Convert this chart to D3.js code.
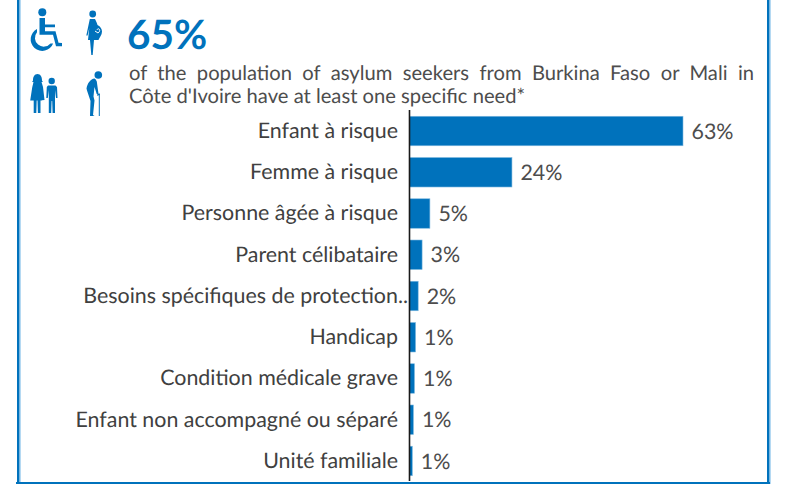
<!DOCTYPE html>
<html>
<head>
<meta charset="utf-8">
<script src="https://cdn.jsdelivr.net/npm/d3@7"></script>
<style>
html, body { margin: 0; padding: 0; background: #fff; }
text { font-family: Lato, sans-serif; text-rendering: geometricPrecision; }
</style>
</head>
<body>
<div id="chartDiv"></div>
<script>
var categories = ["Enfant à risque", "Femme à risque", "Personne âgée à risque", "Parent célibataire",
	"Besoins spécifiques de protection..", "Handicap", "Condition médicale grave",
	"Enfant non accompagné ou séparé", "Unité familiale"];
var values = [63, 23.6, 4.7, 2.9, 2.0, 1.4, 1.15, 0.9, 0.65];
var valueLabels = ["63%", "24%", "5%", "3%", "2%", "1%", "1%", "1%", "1%"];
var headline = "65%";
var introLines = ["of the population of asylum seekers from Burkina Faso or Mali in", "Côte d'Ivoire have at least one specific need*"];

;(function() {
	var width = 793;
	var height = 484;
	var blue = "#0072bc";
	var grey = "#4d4d4d";

	var svg = d3.select("#chartDiv").append("svg")
		.attr("width", width)
		.attr("height", height)
		.style("display", "block");

	// frame: left, right, bottom
	svg.append("rect").attr("x", 17).attr("y", 0).attr("width", 2.5).attr("height", 484).attr("fill", blue);
	svg.append("rect").attr("x", 19.5).attr("y", 0).attr("width", 1).attr("height", 482).attr("fill", "#6db3e6");
	svg.append("rect").attr("x", 767).attr("y", 0).attr("width", 2.5).attr("height", 484).attr("fill", blue);
	svg.append("rect").attr("x", 769.5).attr("y", 0).attr("width", 1).attr("height", 484).attr("fill", "#6db3e6");
	svg.append("rect").attr("x", 16).attr("y", 482).attr("width", 754).attr("height", 2).attr("fill", blue);

	// header
	svg.append("text").attr("x", 127).attr("y", 48.5)
		.style("font-size", "40.5px").style("font-weight", 700).attr("fill", blue).text(headline);

	// first line is justified, so stretch only the gaps between words
	var line1 = svg.append("text").attr("x", 129).attr("y", 80)
		.style("font-size", "20.2px").attr("fill", grey).text(introLines[0]);
	var gaps = introLines[0].split(" ").length - 1;
	line1.style("word-spacing", ((625 - line1.node().getComputedTextLength()) / gaps) + "px");

	svg.append("text").attr("x", 129).attr("y", 103)
		.style("font-size", "20.2px").attr("fill", grey).text(introLines[1]);

	drawIcons();

	// chart
	var xScale = d3.scaleLinear().domain([0, 63]).range([409.5, 683]);
	var yScale = d3.scaleBand().domain(categories).range([110.5, 481.5]).paddingInner(0.285).paddingOuter(0.14);

	svg.selectAll(".bar").data(categories).enter().append("rect")
		.attr("class", "bar")
		.attr("x", xScale(0))
		.attr("y", function(d) { return yScale(d); })
		.attr("width", function(d, i) { return xScale(values[i]) - xScale(0); })
		.attr("height", yScale.bandwidth())
		.attr("fill", blue)
		.attr("stroke", "#7fb9e0")
		.attr("stroke-width", 0.6);

	var yAxis = d3.axisLeft(yScale).tickSize(0).tickPadding(11.5);
	var axisG = svg.append("g")
		.attr("transform", "translate(" + xScale(0) + ",0)")
		.call(yAxis);
	axisG.select(".domain").remove();
	axisG.selectAll("text")
		.style("font-family", "Lato, sans-serif")
		.style("font-size", "21.4px")
		.attr("fill", "#404040");

	// the truncated label runs over the axis line
	axisG.selectAll("text")
		.filter(function(d) { return d.slice(-2) == ".."; })
		.attr("dx", 10);

	svg.append("line")
		.attr("x1", 409.5).attr("x2", 409.5)
		.attr("y1", 110).attr("y2", 481)
		.attr("stroke", "#1a1a1a").attr("stroke-width", 1.6);

	svg.selectAll(".val").data(categories).enter().append("text")
		.attr("class", "val")
		.attr("x", function(d, i) { return xScale(values[i]) + 8.5; })
		.attr("y", function(d) { return yScale(d) + yScale.bandwidth() / 2; })
		.attr("dy", "0.36em")
		.style("font-size", "21.4px")
		.attr("fill", grey)
		.text(function(d, i) { return valueLabels[i]; });

	function drawIcons() {
		var g = svg.append("g").attr("fill", blue);

		// wheelchair
		g.append("circle").attr("cx", 42.3).attr("cy", 12.3).attr("r", 4);
		g.append("path").attr("d", "M39.5 18h5.5v6.5h10v2.7H45v4h10.5l3 11.5 3.5.2v3.3h-6l-3-11.5H39.5z");
		g.append("path").attr("d", "M37 29v3.2A8.8 8.8 0 1 0 50.5 43.5h2.6A11.6 11.6 0 1 1 37 29z");

		// pregnant woman
		g.append("circle").attr("cx", 92.7).attr("cy", 14).attr("r", 3.4);
		g.append("path").attr("d", "M89.8 19h5.2c1.5 3 2 4.500 2.500 6 3 1.500 4.500 4 4.500 6.500 0 3.500-2.500 5.500-3.500 8.500h-4.500l-1.300 15h-1.400l-1.300-15h-2l1.300-12-1.700 7.500h-1.300z");
		g.append("path").attr("fill", "none").attr("stroke", "#fff").attr("stroke-width", 1)
			.attr("d", "M95 31l3 2c1.500-1 2-2.500 1.500-3.500-.5-1-2-1-2.500.3");

		// woman and child
		g.append("path").attr("d", "M33 80c0-3 1.500-6 4.500-6s4.500 3 4.500 6c0 1 .5 1.500 1 2h-11c.5-.5 1-1 1-2z");
		g.append("path").attr("d", "M33.500 82h8l1.500 5 1.500 13-2.600.3v.2h-1.400V113h-2.600l-.4-12.500h-.8l-.4 12.500h-2.600v-12.500h-3.500l2-13z");
		g.append("circle").attr("cx", 51.7).attr("cy", 81).attr("r", 3.2);
		g.append("path").attr("d", "M48 85.500h7.500l1.500 1.500.5 11h-1.500l-1-8V113h-2.400l-.4-12h-.6l-.4 12h-2.400V90l-1 8h-1.500l.5-11z");

		// elderly person with cane
		g.append("circle").attr("cx", 98.300).attr("cy", 75).attr("r", 3.800);
		g.append("path").attr("d", "M94.500 78.500c1.500 1 2.500 2.500 2.500 4.500l1.500 11h-1.800l-2.200-7-1 9.500 1 4-1.500 14.500 1.500 1h-4.500l.5-15-3.500-10.500-.5-2c1-5.500 4-9.500 8-10z");
		g.append("path").attr("d", "M98.800 94h1v22h-1z");
		g.append("path").attr("d", "M97 94.500l2.500-1.200 .5 1.200-2.500 1.500z");
	}
})();
</script>
</body>
</html>
